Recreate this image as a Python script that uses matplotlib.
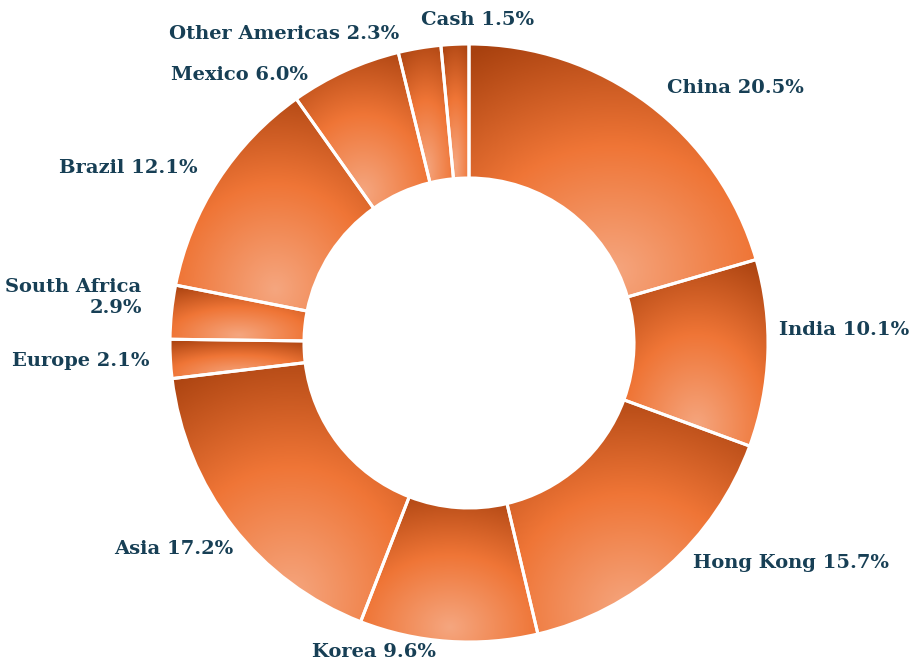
import matplotlib
matplotlib.use("Agg")
import matplotlib.pyplot as plt
import numpy as np
from matplotlib.colors import LinearSegmentedColormap

# portfolio split by region (%)
labels = ["China", "India", "Hong Kong", "Korea", "Asia", "Europe",
          "South Africa", "Brazil", "Mexico", "Other Americas", "Cash"]
values = [20.5, 10.1, 15.7, 9.6, 17.2, 2.1, 2.9, 12.1, 6.0, 2.3, 1.5]

# label placement tweaks (screen px) and alignment
label_shift = [(3, 5), (-15, -24), (8, -23), (-11, -15), (21, 7), (5, 1),
               (-4, -12), (1, 2), (-26, 28), (-16, 12), (24, 2)]
label_ha = ["left", "left", "left", "right", "right", "right",
            "right", "right", "right", "right", "center"]

W, H = 912, 663
cx, cy = 469, H - 343
r_out, r_in = 299, 165
text_col = "#173f55"

grad = LinearSegmentedColormap.from_list(
    "wedge", [(0.0, "#f5a67f"), (0.5, "#ef7536"), (1.0, "#a8410f")])

fig = plt.figure(figsize=(W / 100, H / 100), dpi=100)
ax = fig.add_axes([0, 0, 1, 1])

wedges, _ = ax.pie(values, startangle=90, counterclock=False, radius=r_out,
                   center=(cx, cy),
                   wedgeprops=dict(width=r_out - r_in, edgecolor="white",
                                   linewidth=2.2, facecolor="none", zorder=2))

# radial gradient in each wedge's bounding box, bright spot near the bottom
n = 200
u, v = np.meshgrid(np.linspace(0, 1, n), np.linspace(0, 1, n))
d = np.clip(np.sqrt((u - 0.5) ** 2 + (v - 0.9) ** 2) / 1.0, 0, 1)
for w in wedges:
    ext = w.get_path().get_extents()
    im = ax.imshow(d, cmap=grad, vmin=0, vmax=1, origin="upper",
                   extent=(ext.x0, ext.x1, ext.y0, ext.y1),
                   interpolation="bilinear", zorder=1)
    im.set_clip_path(w)

# labels
total = sum(values)
start = 0
for lab, val, (dx, dy), ha in zip(labels, values, label_shift, label_ha):
    mid = np.radians((start + val / 2) / total * 360)
    start += val
    R = 325
    x = cx + R * np.sin(mid) + dx
    y = cy + R * np.cos(mid) - dy
    txt = "South Africa\n2.9%" if lab == "South Africa" else f"{lab} {val:.1f}%"
    ax.text(x, y, txt, ha=ha, va="center", multialignment="right",
            fontsize=14, fontweight="bold", family="DejaVu Serif",
            color=text_col, linespacing=1.25)

ax.set_xlim(0, W)
ax.set_ylim(0, H)
ax.set_aspect("equal")
ax.axis("off")

fig.savefig("out.png", dpi=100)
